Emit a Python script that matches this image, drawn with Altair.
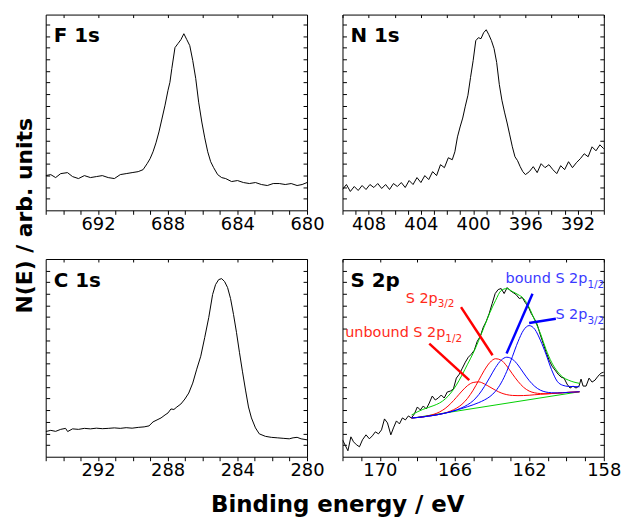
import altair as alt
import pandas as pd

FONT = "DejaVu Sans"
RED = "#ff0000"
BLUE = "#0000ff"
GREEN = "#00d000"
RED_TXT = "#ff2a1a"
BLUE_TXT = "#3a3aff"

# ---------------- F 1s ----------------
F_E = [695.0, 694.71, 694.43, 694.14, 693.75, 693.46, 693.12, 692.78, 692.43, 692.09,
       691.75, 691.41, 691.06, 690.72, 690.38, 690.04, 689.69, 689.41, 689.18, 689.01,
       688.84, 688.67, 688.5, 688.33, 688.15, 687.98, 687.87, 687.76, 687.58, 687.41,
       687.24, 687.07, 686.9, 686.73, 686.56, 686.39, 686.22, 686.04, 685.87, 685.7,
       685.53, 685.36, 685.13, 684.9, 684.67, 684.33, 683.99, 683.65, 683.31, 682.96,
       682.62, 682.28, 681.94, 681.59, 681.25, 680.91, 680.57, 680.28, 680.0]
F_I = [35, 36, 33, 37, 38, 34, 32, 35, 33, 34,
       35, 33, 32, 36, 37, 38, 39, 41, 47, 52,
       59, 68, 79, 92, 106, 121, 129, 143, 164, 168,
       172, 178, 172, 166, 151, 133, 109, 89, 73, 59,
       49, 43, 36, 33, 32, 29, 30, 28, 27, 28,
       26, 25, 27, 27, 26, 27, 25, 26, 28]

# ---------------- N 1s ----------------
N_E = [410.0, 409.7, 409.4, 409.1, 408.8, 408.5, 408.2, 407.9, 407.6, 407.3,
       407.0, 406.7, 406.4, 406.1, 405.8, 405.5, 405.2, 404.9, 404.6, 404.3,
       404.0, 403.7, 403.4, 403.1, 402.8, 402.5, 402.2, 401.9, 401.6, 401.4,
       401.2, 401.0, 400.8, 400.6, 400.4, 400.2, 400.0, 399.8, 399.6, 399.4,
       399.2, 399.0, 398.8, 398.6, 398.4, 398.2, 398.0, 397.8, 397.6, 397.4,
       397.2, 397.0, 396.8, 396.6, 396.4, 396.2, 396.0, 395.7, 395.4, 395.1,
       394.8, 394.5, 394.2, 393.9, 393.6, 393.3, 393.0, 392.7, 392.4, 392.1,
       391.8, 391.5, 391.2, 390.9, 390.6, 390.3, 390.0]
N_I = [21, 26, 19, 24, 20, 25, 21, 26, 23, 27,
       22, 26, 21, 27, 24, 28, 23, 30, 26, 33,
       28, 35, 31, 39, 35, 46, 43, 53, 51, 59,
       74, 84, 93, 105, 116, 134, 151, 171, 174, 173,
       179, 182, 177, 171, 163, 149, 127, 111, 99, 88,
       76, 64, 54, 50, 44, 39, 36, 39, 44, 38,
       47, 43, 46, 41, 37, 45, 41, 49, 43, 48,
       52, 57, 54, 64, 60, 66, 62]

# ---------------- C 1s ----------------
C_E = [295.0, 294.71, 294.43, 294.14, 293.86, 293.74, 293.46, 293.12, 292.78, 292.43,
       292.09, 291.75, 291.41, 291.06, 290.72, 290.38, 290.04, 289.69, 289.35, 289.07,
       288.84, 288.61, 288.38, 288.15, 287.98, 287.81, 287.64, 287.47, 287.24, 287.01,
       286.79, 286.56, 286.33, 286.1, 285.87, 285.64, 285.42, 285.25, 285.07, 284.9,
       284.73, 284.56, 284.39, 284.22, 284.05, 283.88, 283.71, 283.53, 283.36, 283.19,
       282.96, 282.74, 282.39, 282.05, 281.71, 281.37, 281.02, 280.8, 280.57, 280.34, 280.0]
C_I = [25.3, 26.5, 25.5, 27.5, 28.5, 25.3, 28, 27.5, 28.5, 28,
       28.7, 28.2, 28.5, 29, 28.5, 29.2, 28.7, 29.5, 30, 31,
       35, 37, 39, 42, 44, 48, 47.5, 50, 53, 58,
       64, 74, 88, 101, 120, 140, 163, 173, 178, 179,
       176, 170, 159, 143, 125, 105, 86, 67, 50, 39,
       29, 23, 20.5, 19.5, 19, 18.5, 18, 19, 19.5, 18, 17]

# ---------------- S 2p (measured) ----------------
S_E = [172.0, 171.84, 171.71, 171.55, 171.41, 171.25, 171.09, 170.93, 170.74, 170.56,
       170.4, 170.24, 170.07, 169.91, 169.75, 169.59, 169.41, 169.27, 169.11, 168.95,
       168.79, 168.63, 168.47, 168.31, 168.15, 167.99, 167.83, 167.67, 167.51, 167.35,
       167.19, 167.03, 166.87, 166.71, 166.55, 166.39, 166.22, 166.06, 165.9, 165.74,
       165.58, 165.42, 165.26, 165.1, 164.94, 164.78, 164.62, 164.46, 164.3, 164.14,
       163.98, 163.82, 163.66, 163.5, 163.34, 163.18, 163.02, 162.86, 162.7, 162.53,
       162.37, 162.21, 162.05, 161.89, 161.73, 161.57, 161.41, 161.25, 161.09, 160.93,
       160.77, 160.61, 160.45, 160.29, 160.13, 159.97, 159.81, 159.65, 159.49, 159.33,
       159.22, 159.11, 158.95, 158.79, 158.63, 158.47, 158.31, 158.15, 158.0]
S_I = [17, 11, 6, 20, 15, 12, 10, 17, 22, 18,
       21, 25, 23, 27, 38, 34, 22, 29, 36, 33,
       39, 37, 41, 39, 43, 50, 47, 51, 48, 54,
       61, 57, 59, 62, 59, 65, 66, 68, 79, 83,
       89, 95, 100, 103, 107, 116, 121, 130, 136, 144,
       154, 164, 168, 169, 164, 170, 167, 165, 163, 159,
       160, 155, 151, 144, 139, 133, 123, 114, 105, 97,
       91, 87, 83, 80, 79, 73, 69, 71, 69, 71,
       78, 71, 71, 79, 75, 77, 81, 84, 85]

# ---------------- S 2p fit ----------------
FIT_E = [168.3, 168.0, 167.7, 167.4, 167.1, 166.8, 166.5, 166.2, 165.9, 165.6,
         165.3, 165.0, 164.7, 164.4, 164.1, 163.8, 163.5, 163.2, 162.9, 162.6,
         162.3, 162.0, 161.7, 161.4, 161.1, 160.8, 160.5, 160.2, 159.9, 159.6, 159.3]
RED1 = [39.0, 39.4, 40.1, 41.2, 42.7, 45.0, 48.5, 53.5, 59.6, 66.0,
        71.5, 74.6, 75.2, 73.2, 70.0, 66.8, 64.1, 62.4, 61.6, 61.4,
        61.5, 61.8, 62.3, 62.7, 63.1, 63.5, 63.9, 64.3, 64.7, 65.0, 65.3]
RED2 = [39.0, 39.4, 40.0, 40.8, 41.6, 42.6, 44.0, 46.0, 48.7, 52.7,
        58.7, 66.9, 76.8, 86.9, 94.8, 98.5, 97.0, 91.2, 83.3, 75.8,
        69.8, 66.0, 64.2, 63.5, 63.3, 63.5, 63.9, 64.3, 64.7, 65.0, 65.3]
BLUE1 = [39.0, 39.4, 40.0, 40.8, 41.6, 42.6, 43.8, 45.2, 47.0, 49.3,
         52.2, 56.3, 62.4, 70.5, 80.0, 89.7, 97.0, 100.0, 98.1, 92.2,
         84.2, 76.6, 70.7, 66.9, 65.0, 64.3, 64.1, 64.3, 64.7, 65.0, 65.3]
BLUE2 = [39.0, 39.4, 40.0, 40.8, 41.6, 42.6, 43.8, 45.2, 46.8, 48.5,
         50.3, 52.2, 54.4, 57.0, 60.5, 65.9, 74.2, 85.8, 100.5, 115.5,
         127.2, 131.8, 128.1, 117.2, 103.1, 87.5, 75.9, 71.8, 70.7, 70.5, 70.3]
ENVELOPE = [42, 45, 47.5, 49.5, 51.5, 54, 58, 64, 72, 82,
            93, 104, 117, 131, 145, 157, 167, 169, 166, 163,
            159, 150, 137, 124, 108, 95, 86, 80, 77, 75, 73.7]
BASE_E = [168.3, 159.3]
BASE_I = [38.7, 65.3]

# annotation pointer lines (start E, start I, end E, end I)
ANN_E = [167.35, 165.65, 161.82, 160.57]
ANN_I = [113.7, 150.3, 163.7, 138.7]
ANN_E2 = [165.21, 163.96, 163.21, 162.0]
ANN_I2 = [77.0, 102.0, 103.7, 134.3]
ANN_C = [RED, RED, BLUE, BLUE]

# labels: main text ends (right-aligned) where the subscript starts
LAB_TEXT = ["S 2p", "unbound S 2p", "bound S 2p", "S 2p"]
LAB_I = [158.0, 124.0, 178.5, 142.0]
SUB_TEXT = ["3/2", "1/2", "1/2", "3/2"]
SUB_E = [166.90, 166.49, 158.88, 158.88]
SUB_I = [153.0, 118.3, 173.0, 136.0]
LAB_C = [RED_TXT, RED_TXT, BLUE_TXT, BLUE_TXT]

YTICKS = [round(11.7 * k, 2) for k in range(1, 17)]


def x_enc(lo, hi, axis=None):
    sc = alt.Scale(domain=[lo, hi], reverse=True, nice=False, zero=False)
    return alt.X("E:Q", scale=sc, axis=axis)


def y_enc(top, axis=None):
    sc = alt.Scale(domain=[0, top], nice=False, zero=False)
    return alt.Y("I:Q", scale=sc, axis=axis)


def bottom_axis(lo, hi, labels):
    return alt.Axis(orient="bottom", values=list(range(lo, hi + 1)),
                    labelExpr="indexof(%s, datum.value) >= 0 ? datum.label : ''" % str(labels),
                    tickSize=4, tickColor="black", tickWidth=1, domain=False, grid=False,
                    labelFont=FONT, labelFontSize=18, labelColor="black", labelPadding=1,
                    labelOverlap=False, labelFlush=False, labelBound=False, title=None)


def top_axis(lo, hi):
    vals = [v for v in range(lo, hi + 1) if v % 2 == 0]
    return alt.Axis(orient="top", values=vals, labels=False, tickSize=3, offset=-3,
                    domain=False, grid=False, title=None, tickColor="black")


def side_axis(orient):
    return alt.Axis(orient=orient, values=YTICKS, labels=False, tickSize=4, offset=-4,
                    domain=False, grid=False, title=None, tickColor="black")


def panel(E, I, lo, hi, labels, name, top, extra=None):
    df = pd.DataFrame({"E": E, "I": I})
    main = alt.Chart(df).mark_line(color="black", strokeWidth=1, clip=True).encode(
        x=x_enc(lo, hi, bottom_axis(lo, hi, labels)),
        y=y_enc(top, side_axis("left")))
    frame = alt.Chart(df).mark_line(opacity=0).encode(
        x=x_enc(lo, hi, top_axis(lo, hi)),
        y=y_enc(top, side_axis("right")))
    lab = alt.Chart(pd.DataFrame({"t": [name]})).mark_text(
        align="left", baseline="alphabetic", font=FONT, fontSize=20,
        fontWeight="bold", color="black").encode(
        x=alt.value(8), y=alt.value(28), text="t:N")
    layers = [main, frame]
    if extra:
        layers += extra(lo, hi, top)
    layers.append(lab)
    return alt.layer(*layers).resolve_scale(x="independent", y="independent").properties(
        width=263, height=197 if top < 198 else 199)


def s_extra(lo, hi, top):
    rows = []
    for name, vals in [("base", BASE_I), ("red1", RED1), ("red2", RED2),
                       ("blue1", BLUE1), ("blue2", BLUE2), ("env", ENVELOPE)]:
        es = BASE_E if name == "base" else FIT_E
        for e, v in zip(es, vals):
            rows.append({"s": name, "E": e, "I": v})
    fit = alt.Chart(pd.DataFrame(rows)).mark_line(strokeWidth=1, clip=True,
                                                   interpolate="monotone").encode(
        x=x_enc(lo, hi), y=y_enc(top),
        color=alt.Color("s:N", scale=alt.Scale(
            domain=["base", "red1", "red2", "blue1", "blue2", "env"],
            range=[GREEN, RED, RED, BLUE, BLUE, GREEN]), legend=None),
        detail="s:N")
    ann = alt.Chart(pd.DataFrame({"E": ANN_E, "I": ANN_I, "E2": ANN_E2, "I2": ANN_I2,
                                  "c": ANN_C})).mark_rule(strokeWidth=2.5).encode(
        x=x_enc(lo, hi), y=y_enc(top), x2="E2:Q", y2="I2:Q",
        color=alt.Color("c:N", scale=None))
    labs = alt.Chart(pd.DataFrame({"E": SUB_E, "I": LAB_I, "t": LAB_TEXT, "c": LAB_C})).mark_text(
        align="right", baseline="middle", font=FONT, fontSize=14.5).encode(
        x=x_enc(lo, hi), y=y_enc(top), text="t:N", color=alt.Color("c:N", scale=None))
    subs = alt.Chart(pd.DataFrame({"E": SUB_E, "I": SUB_I, "t": SUB_TEXT, "c": LAB_C})).mark_text(
        align="left", baseline="middle", font=FONT, fontSize=10.5).encode(
        x=x_enc(lo, hi), y=y_enc(top), text="t:N", color=alt.Color("c:N", scale=None))
    return [fit, ann, labs, subs]


def c_extra(lo, hi, top):
    ytitle = alt.Chart(pd.DataFrame({"t": ["N(E) / arb. units"]})).mark_text(
        align="center", baseline="middle", angle=270, font=FONT, fontSize=22,
        fontWeight="bold", color="black").encode(
        x=alt.value(-21), y=alt.value(-43.5), text="t:N")
    xtitle = alt.Chart(pd.DataFrame({"t": ["Binding energy / eV"]})).mark_text(
        align="center", baseline="alphabetic", font=FONT, fontSize=23,
        fontWeight="bold", color="black").encode(
        x=alt.value(294), y=alt.value(255), text="t:N")
    return [ytitle, xtitle]


pF = panel(F_E, F_I, 680, 695, [692, 688, 684, 680], "F 1s", 197.3)
pN = panel(N_E, N_I, 390, 410, [408, 404, 400, 396, 392], "N 1s", 197.3)
pC = panel(C_E, C_I, 280, 295, [292, 288, 284, 280], "C 1s", 198.7, c_extra)
pS = panel(S_E, S_I, 158, 172, [170, 166, 162, 158], "S 2p", 198.7, s_extra)

chart = alt.concat(pF, pN, pC, pS, columns=2,
                   spacing={"row": 49, "column": 35.7}, bounds="flush").properties(
    padding={"left": 13, "top": 12, "right": 0, "bottom": 0},
    background="white").configure_view(stroke="black", strokeWidth=1)

chart.save("out.html", embed_options={"renderer": "svg", "actions": False})
